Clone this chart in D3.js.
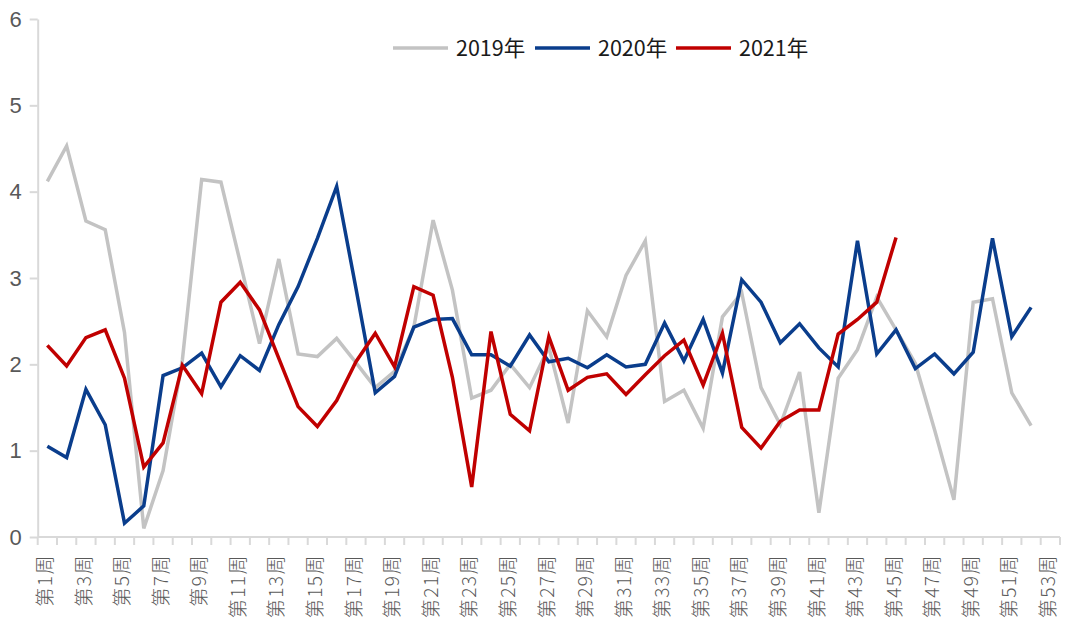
<!DOCTYPE html>
<html>
<head>
<meta charset="utf-8">
<script src="https://cdn.jsdelivr.net/npm/d3@7"></script>
<style>
  body { margin: 0; background: #fff; }
  text { font-family: "Noto Sans CJK SC", "Noto Sans", sans-serif; }
</style>
</head>
<body>
<div id="chart"></div>
<script>
// week labels, 第1周 .. 第53周
const weeks = d3.range(1, 54).map((i) => "第" + i + "周");

// weekly values
const values2019 = [4.12, 4.53, 3.66, 3.56, 2.37, 0.10, 0.77, 2.05, 4.14, 4.11,
  3.18, 2.24, 3.22, 2.12, 2.09, 2.30, 2.02, 1.73, 1.92, 2.43,
  3.67, 2.86, 1.61, 1.70, 2.00, 1.73, 2.20, 1.32, 2.62, 2.32,
  3.03, 3.43, 1.57, 1.70, 1.26, 2.55, 2.83, 1.73, 1.30, 1.91,
  0.28, 1.84, 2.17, 2.78, 2.40, 2.01, 1.24, 0.43, 2.72, 2.76,
  1.67, 1.29];
const values2020 = [1.05, 0.92, 1.71, 1.30, 0.16, 0.36, 1.87, 1.96, 2.13, 1.74,
  2.10, 1.93, 2.46, 2.90, 3.46, 4.06, 2.88, 1.67, 1.86, 2.43,
  2.52, 2.53, 2.11, 2.11, 1.98, 2.34, 2.03, 2.07, 1.96, 2.11,
  1.97, 2.00, 2.48, 2.04, 2.52, 1.90, 2.98, 2.72, 2.25, 2.47,
  2.19, 1.97, 3.43, 2.12, 2.40, 1.95, 2.12, 1.89, 2.14, 3.46,
  2.32, 2.66];
const values2021 = [2.22, 1.98, 2.31, 2.40, 1.84, 0.81, 1.09, 1.99, 1.66, 2.72,
  2.95, 2.63, 2.07, 1.51, 1.28, 1.58, 2.03, 2.36, 1.97, 2.90,
  2.80, 1.85, 0.58, 2.38, 1.42, 1.23, 2.32, 1.70, 1.85, 1.89,
  1.65, 1.88, 2.10, 2.28, 1.76, 2.36, 1.27, 1.03, 1.34, 1.47,
  1.47, 2.35, 2.52, 2.72, 3.47];

const seriesNames = ["2019年", "2020年", "2021年"];
const seriesColors = ["#c3c3c3", "#0a3d8c", "#c00000"];
const yTicks = [0, 1, 2, 3, 4, 5, 6];

const width = 1065;
const height = 621;
const plotLeft = 37.7, plotRight = 1060, plotTop = 19, plotBottom = 537;

const svg = d3
  .select("#chart")
  .append("svg")
  .attr("width", width)
  .attr("height", height);

const x = d3.scaleBand().domain(weeks).range([plotLeft, plotRight]).padding(0);
const y = d3.scaleLinear().domain([0, 6]).range([plotBottom, plotTop]);
const cx = (i) => x(weeks[i]) + x.bandwidth() / 2;

// y axis
const yAxis = svg
  .append("g")
  .attr("transform", "translate(" + plotLeft + ",0)")
  .call(
    d3.axisLeft(y)
      .tickValues(yTicks)
      .tickFormat(d3.format("d"))
      .tickSize(8)
      .tickPadding(8)
      .tickSizeOuter(0)
  );
yAxis.select(".domain").attr("stroke", "#d9d9d9").attr("stroke-width", 2);
yAxis.selectAll(".tick line").attr("stroke", "#d9d9d9").attr("stroke-width", 2);
yAxis
  .selectAll(".tick text")
  .attr("fill", "#595959")
  .style("font-family", "'Liberation Sans', Arial, sans-serif")
  .style("font-size", "22px");

// x axis: line + ticks at band edges
const xAxis = svg.append("g");
xAxis
  .append("line")
  .attr("x1", plotLeft)
  .attr("x2", plotRight)
  .attr("y1", plotBottom)
  .attr("y2", plotBottom)
  .attr("stroke", "#d9d9d9")
  .attr("stroke-width", 2);

const edges = weeks.map((w) => x(w)).concat([x(weeks[weeks.length - 1]) + x.bandwidth()]);
xAxis
  .selectAll(".xtick")
  .data(edges)
  .enter()
  .append("line")
  .attr("class", "xtick")
  .attr("x1", (d) => d)
  .attr("x2", (d) => d)
  .attr("y1", plotBottom)
  .attr("y2", plotBottom + 8)
  .attr("stroke", "#d9d9d9")
  .attr("stroke-width", 2);

xAxis
  .selectAll(".xlabel")
  .data(weeks.filter((d, i) => i % 2 === 0))
  .enter()
  .append("text")
  .attr("class", "xlabel")
  .attr("transform", (d) => "translate(" + (x(d) + x.bandwidth() / 2 - 2) + "," + (plotBottom + 17) + ") rotate(-90)")
  .attr("text-anchor", "end")
  .attr("dy", "0.35em")
  .attr("fill", "#595959")
  .style("font-size", "19px")
  .style("font-weight", "300")
  .style("letter-spacing", "1.5px")
  .text((d) => d);

// lines
const line = d3
  .line()
  .x((d, i) => cx(i))
  .y((d) => y(d));

[values2019, values2020, values2021].forEach(function (vals, k) {
  svg
    .append("path")
    .datum(vals)
    .attr("d", line)
    .attr("fill", "none")
    .attr("stroke", seriesColors[k])
    .attr("stroke-width", 3.5)
    .attr("stroke-linejoin", "miter");
});

// legend
const legendX = [393, 535, 676];
const legend = svg
  .selectAll(".legend")
  .data(seriesNames)
  .enter()
  .append("g")
  .attr("class", "legend")
  .attr("transform", (d, i) => "translate(" + legendX[i] + ",48)");

legend
  .append("line")
  .attr("x1", 0)
  .attr("x2", 55)
  .attr("stroke", (d, i) => seriesColors[i])
  .attr("stroke-width", 3.5);

legend
  .append("text")
  .attr("x", 63)
  .attr("dy", "0.35em")
  .attr("fill", "#1a1a1a")
  .style("font-size", "21.5px")
  .text((d) => d);
</script>
</body>
</html>
